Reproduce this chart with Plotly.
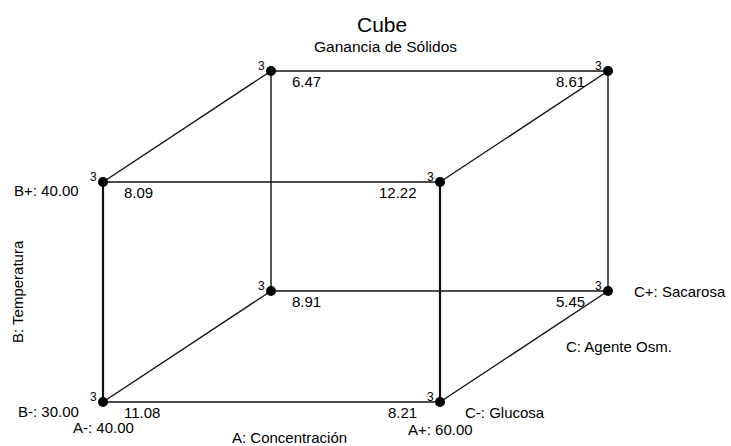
import plotly.graph_objects as go

# Factor levels
a_levels = ["A-: 40.00", "A+: 60.00"]
b_levels = ["B-: 30.00", "B+: 40.00"]
c_levels = ["C-: Glucosa", "C+: Sacarosa"]

# Corner responses (a, b, c) -> mean Ganancia de Sólidos, and replicate count
corner_a = [0, 1, 0, 1, 0, 1, 0, 1]
corner_b = [0, 0, 1, 1, 0, 0, 1, 1]
corner_c = [0, 0, 0, 0, 1, 1, 1, 1]
corner_value = [11.08, 8.21, 8.09, 12.22, 8.91, 5.45, 6.47, 8.61]
corner_count = [3, 3, 3, 3, 3, 3, 3, 3]

# Oblique projection of the coded cube onto the drawing plane
ORIGIN = (103.0, 402.0)
A_SPAN = 337.0
B_SPAN = -220.0
C_DX, C_DY = 168.0, -111.0


def project(a, b, c):
    return ORIGIN[0] + a * A_SPAN + c * C_DX, ORIGIN[1] + b * B_SPAN + c * C_DY


FONT = "Arial, Liberation Sans, sans-serif"
LABEL = dict(size=15, color="#000", family=FONT)
fig = go.Figure()

# Cube edges: pairs of corners that differ in one factor
edges = []
for i in range(8):
    for j in range(i + 1, 8):
        diff = (corner_a[i] != corner_a[j]) + (corner_b[i] != corner_b[j]) + (corner_c[i] != corner_c[j])
        if diff == 1:
            edges.append((i, j))

for i, j in edges:
    x0, y0 = project(corner_a[i], corner_b[i], corner_c[i])
    x1, y1 = project(corner_a[j], corner_b[j], corner_c[j])
    vertical = corner_b[i] != corner_b[j] and corner_c[i] == 0
    fig.add_trace(go.Scatter(
        x=[x0, x1], y=[y0, y1], mode="lines",
        line=dict(color="#111", width=2.2 if vertical else 1.4),
        hoverinfo="skip", showlegend=False,
    ))

px = [project(a, b, c)[0] for a, b, c in zip(corner_a, corner_b, corner_c)]
py = [project(a, b, c)[1] for a, b, c in zip(corner_a, corner_b, corner_c)]
fig.add_trace(go.Scatter(
    x=px, y=py, mode="markers",
    marker=dict(color="#000", size=10, symbol="circle"),
    hoverinfo="skip", showlegend=False,
))

annotations = []
for a, b, c, v, n, x, y in zip(corner_a, corner_b, corner_c, corner_value, corner_count, px, py):
    # replicate count, upper left of the dot
    annotations.append(dict(x=x, y=y, text=str(n), showarrow=False, xanchor="right", yanchor="middle",
                            xshift=-4, yshift=5, font=dict(size=12, color="#000", family=FONT)))
    # mean response below the corner
    annotations.append(dict(x=x, y=y, text=f"{v:.2f}", showarrow=False,
                            xanchor="left" if a == 0 else "right", yanchor="middle",
                            xshift=19 if a == 0 else -21, yshift=-10, font=LABEL))

# Factor level labels
x, y = project(0, 1, 0)
annotations.append(dict(x=x, y=y, text=b_levels[1], showarrow=False, xanchor="right", yanchor="middle",
                        xshift=-22, yshift=-8, font=LABEL))
x, y = project(0, 0, 0)
annotations.append(dict(x=x, y=y, text=b_levels[0], showarrow=False, xanchor="right", yanchor="middle",
                        xshift=-22, yshift=-9, font=LABEL))
annotations.append(dict(x=x, y=y, text=a_levels[0], showarrow=False, xanchor="center", yanchor="middle",
                        xshift=0, yshift=-25, font=LABEL))
x, y = project(1, 0, 0)
annotations.append(dict(x=x, y=y, text=a_levels[1], showarrow=False, xanchor="center", yanchor="middle",
                        xshift=0, yshift=-27, font=LABEL))
annotations.append(dict(x=x, y=y, text=c_levels[0], showarrow=False, xanchor="left", yanchor="middle",
                        xshift=23, yshift=-10, font=LABEL))
x, y = project(1, 0, 1)
annotations.append(dict(x=x, y=y, text=c_levels[1], showarrow=False, xanchor="left", yanchor="middle",
                        xshift=24, yshift=0, font=LABEL))

# Factor names
xa0, ya0 = project(0, 0, 0)
xa1, _ = project(1, 0, 0)
annotations.append(dict(x=(xa0 + xa1) / 2, y=ya0, text="A: Concentración", showarrow=False,
                        xanchor="center", yanchor="middle", xshift=18, yshift=-35, font=LABEL))
xb, yb0 = project(0, 0, 0)
_, yb1 = project(0, 1, 0)
annotations.append(dict(x=xb, y=(yb0 + yb1) / 2, text="B: Temperatura", showarrow=False, textangle=-90,
                        xanchor="center", yanchor="middle", xshift=-86, yshift=0, font=LABEL))
xc0, yc0 = project(1, 0, 0)
xc1, yc1 = project(1, 0, 1)
annotations.append(dict(x=(xc0 + xc1) / 2, y=(yc0 + yc1) / 2, text="C: Agente Osm.", showarrow=False,
                        xanchor="left", yanchor="middle", xshift=40, yshift=0, font=LABEL))

# Titles
annotations.append(dict(x=382, y=24, text="Cube", showarrow=False, xanchor="center", yanchor="middle",
                        font=dict(size=21, color="#000", family=FONT)))
annotations.append(dict(x=385, y=46, text="Ganancia de Sólidos", showarrow=False, xanchor="center",
                        yanchor="middle", font=dict(size=15.5, color="#000", family=FONT)))

fig.update_layout(
    width=731, height=446,
    margin=dict(l=0, r=0, t=0, b=0),
    paper_bgcolor="white", plot_bgcolor="white",
    xaxis=dict(range=[0, 731], visible=False, fixedrange=True),
    yaxis=dict(range=[446, 0], visible=False, fixedrange=True),
    annotations=annotations,
    showlegend=False,
)

fig.write_html("out.html")
